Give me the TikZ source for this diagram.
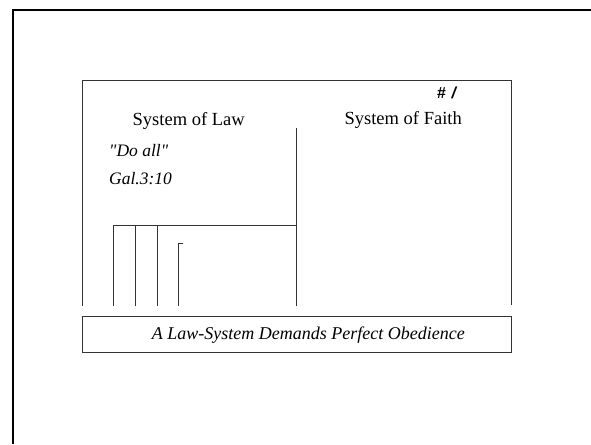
\documentclass[tikz,border=0pt]{standalone}
\usepackage{fontspec}
\setmainfont{Liberation Serif}
\newfontfamily\handfont{Liberation Sans}
\begin{document}
\begin{tikzpicture}[x=1pt,y=-1pt,
  thin line/.style={line width=0.9pt,draw=black!80},
  frame line/.style={line width=2pt,draw=black},
  heading/.style={anchor=base,inner sep=0pt,font=\fontsize{18.5}{20}\selectfont},
  quote/.style={anchor=base west,inner sep=0pt,font=\fontsize{17.5}{19}\selectfont\itshape},
  caption/.style={anchor=base,inner sep=0pt,font=\fontsize{18}{20}\selectfont\itshape}]
\useasboundingbox (0,0) rectangle (591,444);
\fill[white] (0,0) rectangle (591,444);
% outer frame
\draw[frame line] (13,444) -- (13,10.3) -- (591,10.3);
% inner box (open at the bottom)
\coordinate (ibl) at (82.3,306);
\coordinate (itl) at (82.3,80.7);
\coordinate (itr) at (511.3,80.7);
\coordinate (ibr) at (511.3,305);
\draw[thin line] (ibl) -- (itl) -- (itr) -- (ibr);
% divider
\coordinate (dtop) at (296,128);
\coordinate (dbot) at (296,306);
\draw[thin line] (dtop) -- (dbot);
% horizontal bar and bars
\coordinate (hl) at (113.3,225.7);
\coordinate (hr) at (296,225.7);
\draw[thin line] (hl) -- (hr);
\foreach \x in {113.3,135.3,157}{
  \draw[thin line] (\x,225.7) -- (\x,306);
}
\coordinate (ftick) at (183.3,243.3);
\coordinate (ftop) at (178.5,243.3);
\coordinate (fbot) at (178.5,306);
\draw[thin line] (ftick) -- (ftop) -- (fbot);
% bottom box
\node[thin line,draw,minimum width=429pt,minimum height=36.6pt,inner sep=0pt,anchor=north west] (bbox) at (82.3,315.7) {};
% texts
\node[heading] (law) at (188.7,125) {System of Law};
\node[heading] (faith) at (403.2,124) {System of Faith};
\node[quote] (doall) at (109,156.5) {\textquotedbl Do all\textquotedbl};
\node[quote] (gal) at (109,184) {Gal.3:10};
\node[inner sep=0pt,font=\handfont\fontsize{16}{18}\selectfont\bfseries\itshape] (mark) at (446.5,92.5) {\#\hspace{6pt}/};
\node[caption] (cap) at (308.3,339.5) {A Law-System Demands Perfect Obedience};
\end{tikzpicture}
\end{document}
